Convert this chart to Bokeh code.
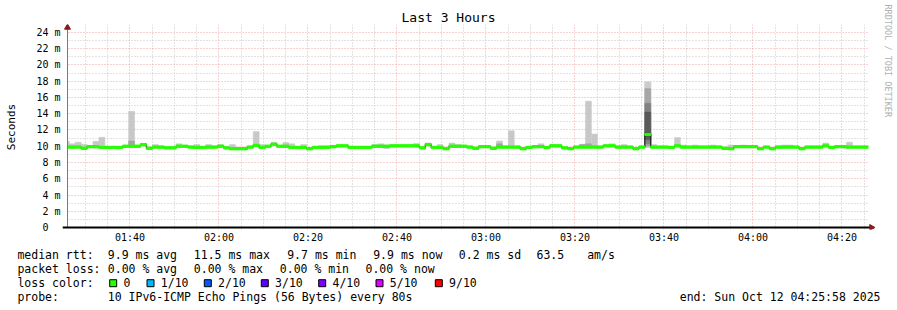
import math
from datetime import datetime, timedelta

from bokeh.plotting import figure
from bokeh.models import Range1d, FixedTicker, ColumnDataSource, Title
from bokeh.layouts import column
from bokeh.embed import file_html
from bokeh.resources import INLINE
from bokeh.core.properties import value

# ---------------- data ----------------
END_TIME = datetime(2025, 10, 12, 4, 25, 58)
WINDOW_HOURS = 3
STEP_SECONDS = 80
STEP_PHASE = 0.7          # part of the first step lying before the window start

x_tick_labels = ["01:40", "02:00", "02:20", "02:40", "03:00", "03:20", "03:40", "04:00", "04:20"]
y_tick_values = [0, 2, 4, 6, 8, 10, 12, 14, 16, 18, 20, 22, 24]
y_tick_labels = ["0\u00a0\u00a0", "2\u00a0m", "4\u00a0m", "6\u00a0m", "8\u00a0m", "10\u00a0m", "12\u00a0m",
                 "14\u00a0m", "16\u00a0m", "18\u00a0m", "20\u00a0m", "22\u00a0m", "24\u00a0m"]

# median rtt per 80 s step (ms)
median_ms = [
    9.90, 9.90, 9.90, 9.75, 9.95, 9.95, 9.85, 9.85, 9.85, 9.85,
    10.00, 10.00, 10.00, 10.20, 9.75, 9.90, 9.90, 9.80, 9.80, 10.00,
    10.00, 9.90, 9.85, 9.85, 9.90, 9.90, 10.00, 9.80, 9.70, 9.70,
    9.70, 9.90, 10.10, 9.85, 10.00, 10.25, 10.00, 10.00, 9.85, 9.85,
    9.85, 9.70, 9.85, 9.85, 9.85, 9.95, 10.05, 10.05, 9.85, 9.85,
    9.85, 9.85, 10.00, 10.00, 10.00, 10.05, 10.05, 10.05, 10.05, 10.05,
    9.80, 10.20, 9.85, 9.85, 9.70, 10.00, 10.00, 10.00, 9.90, 9.75,
    9.95, 9.95, 9.75, 9.90, 9.90, 9.90, 9.90, 9.70, 9.85, 9.95,
    9.95, 9.85, 10.05, 10.05, 9.80, 9.70, 9.90, 9.90, 9.90, 9.90,
    9.90, 10.05, 10.05, 9.90, 9.90, 9.90, 9.70, 9.90, 11.45, 9.90,
    9.90, 9.90, 9.85, 10.05, 9.90, 9.90, 9.90, 9.90, 9.90, 9.90,
    9.90, 9.75, 9.70, 9.95, 9.95, 9.95, 9.95, 9.70, 9.90, 9.70,
    9.90, 9.90, 9.90, 9.90, 9.70, 9.90, 9.90, 9.90, 10.05, 9.85,
    9.95, 9.95, 9.90, 9.90, 9.90, 9.90,
]

# slowest ping per step (ms)
smoke_max_ms = [
    10.60, 10.30, 10.50, 10.25, 10.05, 10.60, 11.10, 9.95, 9.95, 9.95,
    10.10, 14.30, 10.10, 10.30, 9.90, 10.20, 10.00, 9.90, 9.90, 10.30,
    10.10, 10.00, 10.20, 9.95, 10.20, 10.00, 10.20, 9.90, 10.20, 9.80,
    9.80, 10.00, 11.80, 10.20, 10.10, 10.45, 10.10, 10.45, 10.30, 9.95,
    10.20, 9.80, 9.95, 10.10, 10.10, 10.10, 10.15, 10.15, 9.95, 9.95,
    9.95, 9.95, 10.20, 10.30, 10.15, 10.15, 10.15, 10.15, 10.15, 10.35,
    9.90, 10.40, 9.95, 10.20, 9.80, 10.40, 10.20, 10.10, 10.00, 9.85,
    10.05, 10.05, 9.85, 10.65, 10.00, 11.90, 10.00, 9.80, 9.95, 10.05,
    10.30, 9.95, 10.20, 10.15, 9.90, 9.80, 10.00, 10.25, 15.55, 11.50,
    10.00, 10.15, 10.30, 10.00, 10.20, 10.00, 9.80, 10.00, 17.90, 10.20,
    10.00, 10.00, 9.95, 11.06, 10.15, 10.00, 10.15, 10.00, 10.00, 10.15,
    10.00, 9.85, 10.15, 10.05, 10.15, 10.10, 10.05, 9.80, 10.00, 9.80,
    10.00, 10.15, 10.15, 10.00, 9.80, 10.00, 10.00, 10.00, 10.40, 9.95,
    10.10, 10.05, 10.50, 10.00, 10.00, 10.00,
]

# fastest ping per step (ms)
smoke_min_ms = [
    9.80, 9.80, 9.80, 9.65, 9.85, 9.85, 9.75, 9.75, 9.75, 9.75,
    9.90, 9.90, 9.90, 10.05, 9.65, 9.80, 9.80, 9.70, 9.70, 9.90,
    9.90, 9.80, 9.75, 9.75, 9.80, 9.80, 9.90, 9.70, 9.60, 9.60,
    9.60, 9.80, 10.00, 9.75, 9.90, 10.10, 9.90, 9.90, 9.75, 9.75,
    9.75, 9.60, 9.75, 9.75, 9.75, 9.85, 9.95, 9.95, 9.75, 9.75,
    9.75, 9.75, 9.90, 9.80, 9.70, 9.95, 9.95, 9.95, 9.95, 9.95,
    9.70, 10.10, 9.75, 9.75, 9.60, 9.90, 9.90, 9.90, 9.80, 9.65,
    9.85, 9.85, 9.65, 9.80, 9.80, 9.80, 9.80, 9.60, 9.75, 9.85,
    9.85, 9.75, 9.95, 9.95, 9.70, 9.60, 9.80, 9.80, 9.80, 9.80,
    9.80, 9.95, 9.95, 9.80, 9.80, 9.80, 9.60, 9.80, 9.85, 9.80,
    9.80, 9.80, 9.75, 9.95, 9.80, 9.80, 9.80, 9.80, 9.80, 9.80,
    9.80, 9.60, 9.60, 9.85, 9.85, 9.85, 9.85, 9.60, 9.80, 9.60,
    9.80, 9.80, 9.80, 9.80, 9.60, 9.80, 9.80, 9.80, 9.95, 9.75,
    9.85, 9.85, 9.80, 9.80, 9.80, 9.80,
]

# steps with a denser inner smoke band, and its top (ms)
inner_steps = [11, 73, 87, 88]
inner_top_ms = [10.65, 10.30, 10.20, 10.30]

# the one step with a big spread: its ten sorted pings (ms)
spike_step = 98
spike_pings_ms = [9.85, 10.00, 10.30, 10.80, 11.25, 11.65, 14.20, 15.30, 17.10, 17.90]

row_headers = ["median rtt:", "packet loss:", "loss color:", "probe:"]
stat_row1 = ["9.9 ms avg", "11.5 ms max", "9.7 ms min", "9.9 ms now", "0.2 ms sd", "63.5", "am/s"]
stat_row2 = ["0.00 % avg", "0.00 % max", "0.00 % min", "0.00 % now"]
loss_labels = ["0", "1/10", "2/10", "3/10", "4/10", "5/10", "9/10"]
loss_colors = ["#26ff00", "#00b8ff", "#0059ff", "#5e00ff", "#7e00ff", "#dd00ff", "#ff0000"]
probe_text = "10 IPv6-ICMP Echo Pings (56 Bytes) every 80s"
end_text = "end: Sun Oct 12 04:25:58 2025"
title_text = "Last 3 Hours"
y_label = "Seconds"
watermark = "RRDTOOL / TOBI OETIKER"

# ---------------- layout constants (pixels) ----------------
W = 897
H_CHART, H_TEXT = 245, 65
AX_L, AX_R, AX_B = 67, 868, 228      # axis origin and time-axis end
FRAME_L, FRAME_R, FRAME_T, FRAME_B = 62, 882, 24, 230
PX_PER_MS = 196 / 24.0
MONO = "DejaVu Sans Mono"
LEG_FS = 11.5
CHAR_W = LEG_FS * 0.602
TEXT_X0 = 16.7

EPOCH = datetime(1970, 1, 1)


def to_ms(dt):
    return int(round((dt - EPOCH).total_seconds() * 1000))


START_TIME = END_TIME - timedelta(hours=WINDOW_HOURS)
x0, x1 = to_ms(START_TIME), to_ms(END_TIME)
MS_PER_PX = (x1 - x0) / (AX_R - AX_L)
XR0 = x0 - (AX_L - FRAME_L) * MS_PER_PX
XR1 = x1 + (FRAME_R - AX_R) * MS_PER_PX
YR0 = -(FRAME_B - AX_B) / PX_PER_MS
YR1 = (AX_B - FRAME_T) / PX_PER_MS

n = len(median_ms)
lefts = [to_ms(START_TIME + timedelta(seconds=(k - STEP_PHASE) * STEP_SECONDS)) for k in range(n)]
rights = [l + STEP_SECONDS * 1000 for l in lefts]

# ---------------- main chart ----------------
p = figure(width=W, height=H_CHART, x_range=Range1d(XR0, XR1), y_range=Range1d(YR0, YR1),
           output_backend="svg", toolbar_location=None,
           min_border_left=FRAME_L, min_border_right=W - FRAME_R,
           min_border_top=FRAME_T, min_border_bottom=H_CHART - FRAME_B)
p.outline_line_color = None
p.background_fill_color = "white"
p.border_fill_color = "white"

p.title.text = title_text
p.title.align = "left"
p.title.offset = 448 - len(title_text) * 13 * 0.602 / 2 - FRAME_L
p.title.standoff = 0
p.title.text_font = MONO
p.title.text_font_size = "13px"
p.title.text_font_style = "normal"
p.title.text_color = "#000000"

day = END_TIME.date()
x_ticks = [to_ms(datetime.combine(day, datetime.strptime(t, "%H:%M").time())) for t in x_tick_labels]
minor_x = []
t = datetime.combine(day, datetime.strptime("01:30", "%H:%M").time())
while t <= END_TIME:
    v = to_ms(t)
    if v not in x_ticks:
        minor_x.append(v)
    t += timedelta(minutes=5)

p.xaxis.ticker = FixedTicker(ticks=x_ticks, minor_ticks=minor_x)
p.xaxis.major_label_overrides = {k: v for k, v in zip(x_ticks, x_tick_labels)}
p.yaxis.ticker = FixedTicker(ticks=y_tick_values, minor_ticks=[v + 1 for v in y_tick_values[:-1]])
p.yaxis.major_label_overrides = {k: v for k, v in zip(y_tick_values, y_tick_labels)}

for ax in (p.xaxis, p.yaxis):
    ax.axis_line_color = None
    ax.major_tick_line_color = None
    ax.minor_tick_line_color = None
    ax.major_tick_out = 0
    ax.major_tick_in = 0
    ax.minor_tick_out = 0
    ax.minor_tick_in = 0
    ax.major_label_text_font = MONO
    ax.major_label_text_font_size = "10px"
    ax.major_label_text_color = "#000000"
p.xaxis.major_label_standoff = 2
p.yaxis.major_label_standoff = 2
p.yaxis.axis_label = y_label
p.yaxis.axis_label_text_font = MONO
p.yaxis.axis_label_text_font_size = "11px"
p.yaxis.axis_label_text_font_style = "normal"
p.yaxis.axis_label_text_color = "#000000"
p.yaxis.axis_label_standoff = 15

for g in (p.xgrid, p.ygrid):
    g.grid_line_color = "#e88a8a"
    g.grid_line_alpha = 0.75
    g.grid_line_dash = "1 2"
    g.grid_line_width = 1
    g.minor_grid_line_color = "#b4b4b4"
    g.minor_grid_line_alpha = 0.75
    g.minor_grid_line_dash = "1 2"
    g.minor_grid_line_width = 1

# white margins of the frame outside the time window (hide grid stubs)
p.quad(left=[XR0, x1], right=[x0, XR1], bottom=[YR0, YR0], top=[YR1, YR1],
       fill_color="white", line_color=None)

# smoke: outer band
src = ColumnDataSource(dict(left=lefts, right=rights, lo=smoke_min_ms, hi=smoke_max_ms))
p.quad(left="left", right="right", bottom="lo", top="hi", source=src,
       fill_color="#c8c8c8", line_color="#c8c8c8", line_width=0.5)

# inner band
inner_src = ColumnDataSource(dict(
    left=[lefts[k] for k in inner_steps], right=[rights[k] for k in inner_steps],
    lo=[median_ms[k] - 0.05 for k in inner_steps], hi=inner_top_ms))
p.quad(left="left", right="right", bottom="lo", top="hi", source=inner_src,
       fill_color="#a4a4a4", line_color="#a4a4a4", line_width=0.5)

# spike step nested bands
shades = ["#cccccc", "#a6a6a6", "#828282", "#5a5a5a", "#383838"]
half = len(spike_pings_ms) // 2
spike_src = ColumnDataSource(dict(
    left=[lefts[spike_step]] * half, right=[rights[spike_step]] * half,
    lo=[spike_pings_ms[i] for i in range(half)],
    hi=[spike_pings_ms[-1 - i] for i in range(half)],
    color=shades))
p.quad(left="left", right="right", bottom="lo", top="hi", source=spike_src,
       fill_color="color", line_color="color", line_width=0.5)

# median line
p.step(x=lefts + [rights[-1]], y=median_ms + [median_ms[-1]], mode="after",
       line_color="#202020", line_width=1.2)

# loss-coloured median band
band = 0.14
band_src = ColumnDataSource(dict(left=lefts, right=rights,
                                 lo=[m - band for m in median_ms], hi=[m + band for m in median_ms]))
p.quad(left="left", right="right", bottom="lo", top="hi", source=band_src,
       fill_color=loss_colors[0], line_color=loss_colors[0], line_width=1)

# re-mask the parts of the first/last step outside the time window
p.quad(left=[XR0, x1], right=[x0, XR1], bottom=[YR0, YR0], top=[YR1, YR1],
       fill_color="white", line_color=None)

# axis lines with arrow heads
ARROW = "#8b1a1a"
p.segment(x0=[x0], y0=[0], x1=[x0], y1=[YR1], line_color="#7a7a7a", line_width=1)
p.segment(x0=[XR0], y0=[0], x1=[x1 + 2 * MS_PER_PX], y1=[0], line_color="#000000", line_width=2)
p.scatter(x=[x0], y=[YR1 - 3 / PX_PER_MS], marker="triangle", size=6,
          fill_color=ARROW, line_color=ARROW)
p.scatter(x=[x1 + 3 * MS_PER_PX], y=[0], marker="triangle", size=6, angle=-math.pi / 2,
          fill_color=ARROW, line_color=ARROW)

# watermark on the right
p.add_layout(Title(text=watermark, align="left", offset=4 - FRAME_T, standoff=0,
                   text_font=MONO, text_font_size="8.5px", text_font_style="normal",
                   text_color="#b0b0b0"), "right")

# ---------------- statistics block (its frame shares the chart's columns) ----------------
row_y = [9.3, 23.3, 37.3, 51.3]
lf = figure(width=W, height=H_TEXT, x_range=Range1d(FRAME_L, FRAME_R), y_range=Range1d(H_TEXT, 0),
            output_backend="svg", toolbar_location=None, x_axis_location=None,
            min_border_left=FRAME_L, min_border_right=W - FRAME_R, min_border_top=0, min_border_bottom=0)
lf.outline_line_color = None
lf.grid.visible = False
lf.background_fill_color = "white"
lf.border_fill_color = "white"

# row headers through the left axis, padded to equal width so they start together
head_w = max(len(h) for h in row_headers)
lf.yaxis.ticker = FixedTicker(ticks=row_y)
lf.yaxis.major_label_overrides = {y: h + "\u00a0" * (head_w - len(h)) for y, h in zip(row_y, row_headers)}
lf.yaxis.axis_line_color = None
lf.yaxis.major_tick_line_color = None
lf.yaxis.minor_tick_line_color = None
lf.yaxis.major_tick_out = 0
lf.yaxis.major_tick_in = 0
lf.yaxis.minor_tick_out = 0
lf.yaxis.minor_tick_in = 0
lf.yaxis.major_label_text_font = MONO
lf.yaxis.major_label_text_font_size = f"{LEG_FS}px"
lf.yaxis.major_label_text_color = "#000000"
lf.yaxis.major_label_standoff = int(round(FRAME_L - (TEXT_X0 + head_w * CHAR_W)))

row1_x = [107.3, 193.3, 286.7, 372.7, 458.3, 536.0, 586.7]
row2_x = [107.3, 193.3, 279.3, 365.0]
box_x = [112.7, 150.0, 207.3, 264.3, 321.7, 379.0, 438.3]

tx = row1_x + row2_x + [b + 10.3 for b in box_x] + [107.3]
ty = [row_y[0]] * len(row1_x) + [row_y[1]] * len(row2_x) + [row_y[2]] * len(box_x) + [row_y[3]]
tt = stat_row1 + stat_row2 + loss_labels + [probe_text]
lf.text(x=tx, y=ty, text=tt, text_font=value(MONO), text_font_size=f"{LEG_FS}px",
        text_baseline="middle", text_align="left", text_color="#000000")
lf.text(x=[880.0], y=[row_y[3]], text=[end_text], text_font=value(MONO),
        text_font_size=f"{LEG_FS}px", text_baseline="middle", text_align="right",
        text_color="#000000")
lf.rect(x=box_x, y=[row_y[2] + 0.4] * len(box_x), width=7, height=7,
        fill_color=loss_colors, line_color="#000000", line_width=1)

layout = column(p, lf, spacing=0)
with open("out.html", "w", encoding="utf-8") as f:
    f.write(file_html(layout, INLINE))
